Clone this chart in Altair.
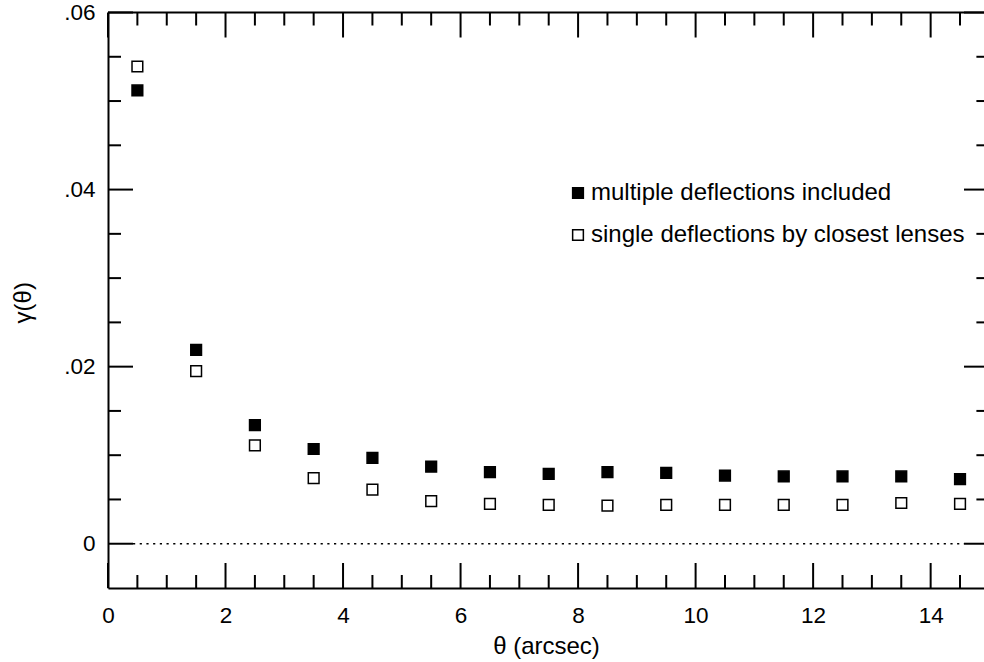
import altair as alt
import pandas as pd

# ---- data ----
theta = [0.5, 1.5, 2.5, 3.5, 4.5, 5.5, 6.5, 7.5, 8.5, 9.5, 10.5, 11.5, 12.5, 13.5, 14.5]
multiple = [0.0512, 0.0219, 0.0134, 0.0107, 0.0097, 0.0087, 0.0081, 0.0079, 0.0081,
            0.0080, 0.0077, 0.0076, 0.0076, 0.0076, 0.0073]
single = [0.0539, 0.0195, 0.0111, 0.0074, 0.0061, 0.0048, 0.0045, 0.0044, 0.0043,
          0.0044, 0.0044, 0.0044, 0.0044, 0.0046, 0.0045]
series_names = ["multiple deflections included", "single deflections by closest lenses"]

x_labels = [0, 2, 4, 6, 8, 10, 12, 14]
x_minor = [0.5, 1, 1.5, 2.5, 3, 3.5, 4.5, 5, 5.5, 6.5, 7, 7.5, 8.5, 9, 9.5,
           10.5, 11, 11.5, 12.5, 13, 13.5, 14.5]
y_labels = [0, 0.02, 0.04, 0.06]
y_minor = [0.005, 0.01, 0.015, 0.025, 0.03, 0.035, 0.045, 0.05, 0.055]
zero_line = [0]

# ---- layout ----
W = 876
H = 575.5
FONT = "Liberation Sans"
FS = 22.5
FS_TXT = 24
LW = 2

df = pd.DataFrame({
    "theta": theta * 2,
    "gamma": multiple + single,
    "series": [series_names[0]] * len(theta) + [series_names[1]] * len(theta),
})

xscale = alt.Scale(domain=[0, 14.908], nice=False, zero=False)
yscale = alt.Scale(domain=[-0.005, 0.06], nice=False, zero=False)

ax_x = alt.Axis(values=x_labels, ticks=False, tickSize=0, grid=False, domain=True,
                domainColor="black", domainWidth=LW, labelFont=FONT, labelFontSize=FS,
                labelColor="black", labelBaseline="alphabetic", labelPadding=34,
                labelFlush=False, labelOverlap=False,
                title="θ (arcsec)", titleFont=FONT, titleFontSize=FS_TXT, titleFontWeight="normal",
                titleColor="black", titleX=W / 2, titleY=65, titleAlign="center",
                titleBaseline="alphabetic")
ax_y = alt.Axis(values=y_labels, ticks=False, tickSize=0, grid=False, domain=True,
                domainColor="black", domainWidth=LW, labelFont=FONT, labelFontSize=FS,
                labelColor="black", labelBaseline="middle", labelPadding=13,
                labelFlush=False, labelOverlap=False,
                labelExpr="datum.value === 0 ? '0' : slice(format(datum.value, '.2f'), 1)",
                title="γ(θ)", titleFont=FONT, titleFontSize=FS_TXT, titleFontWeight="normal",
                titleColor="black", titleAngle=270, titleX=-78, titleY=H / 2 + 2,
                titleAlign="center", titleBaseline="alphabetic")

X = lambda f="theta": alt.X(f"{f}:Q", scale=xscale, axis=ax_x)
Y = lambda f="gamma": alt.Y(f"{f}:Q", scale=yscale, axis=ax_y)

points = alt.Chart(df).mark_point(shape="square", filled=True, stroke="black",
                                  strokeWidth=1.5, size=115, opacity=1).encode(
    x=X(),
    y=Y(),
    fill=alt.Fill("series:N",
                  scale=alt.Scale(domain=series_names, range=["black", "white"]),
                  legend=alt.Legend(orient="none", legendX=458, legendY=168.5, title=None,
                                    symbolType="square", symbolSize=115,
                                    symbolStrokeColor="black", symbolStrokeWidth=1.5,
                                    symbolFillColor="white",
                                    labelFont=FONT, labelFontSize=FS_TXT, labelColor="black",
                                    labelOffset=1, rowPadding=18, padding=0,
                                    labelLimit=500)),
)

rule_style = dict(color="black", strokeWidth=LW)

xt_major = pd.DataFrame({"theta": x_labels})
xt_minor = pd.DataFrame({"theta": x_minor})
yt_major = pd.DataFrame({"gamma": y_labels})
yt_minor = pd.DataFrame({"gamma": y_minor})

layers = [points]
# bottom & top ticks
for d, ln in [(xt_major, 25), (xt_minor, 13)]:
    layers.append(alt.Chart(d).mark_rule(**rule_style).encode(
        x=X(), y=alt.value(H), y2=alt.value(H - ln)))
    layers.append(alt.Chart(d).mark_rule(**rule_style).encode(
        x=X(), y=alt.value(0), y2=alt.value(ln)))
# left & right ticks (right frame lies just outside the picture)
for d, ln, rv in [(yt_major, 25, 20), (yt_minor, 13, 7.6)]:
    layers.append(alt.Chart(d).mark_rule(**rule_style).encode(
        y=Y(), x=alt.value(0), x2=alt.value(ln)))
    layers.append(alt.Chart(d).mark_rule(**rule_style).encode(
        y=Y(), x=alt.value(W), x2=alt.value(W - rv)))

# top frame line
layers.append(alt.Chart(pd.DataFrame({"gamma": [0.06]})).mark_rule(**rule_style).encode(
    y=Y(), x=alt.value(0), x2=alt.value(W)))

# dotted zero line
zl = alt.Chart(pd.DataFrame({"gamma": zero_line})).mark_rule(
    color="black", strokeWidth=1.4, strokeDash=[2.2, 4.5]).encode(
    y=Y(), x=alt.value(25), x2=alt.value(W - 20))
layers.insert(0, zl)

chart = alt.layer(*layers).properties(
    width=W, height=H,
    autosize=alt.AutoSizeParams(type="none"),
    padding={"left": 108, "top": 12.5, "right": 0, "bottom": 74},
    background="white",
).configure_view(stroke=None)

chart.save("out.html", embed_options={"renderer": "svg", "actions": False})
